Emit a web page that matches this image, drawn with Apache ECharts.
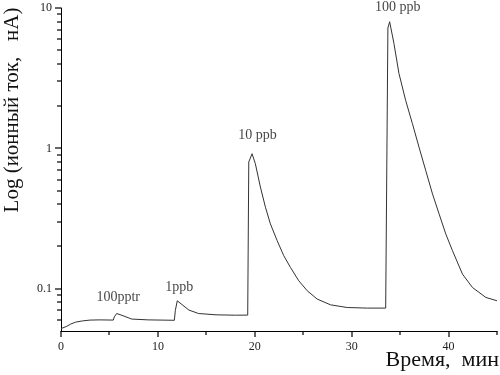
<!DOCTYPE html>
<html>
<head>
<meta charset="utf-8">
<script src="https://cdn.jsdelivr.net/npm/echarts@6/dist/echarts.min.js"></script>
<style>html,body{margin:0;padding:0;background:#fff}#c{width:500px;height:375px}</style>
</head>
<body>
<div id="c"></div>
<script>
var timeMin = [0, 0.2, 0.6, 1.0, 1.5, 2.2, 3.0, 4.0, 5.4, 5.5, 5.75, 6.2, 7.3, 9.0, 11.7, 11.8, 12.0, 12.5, 13.2, 14.2, 16.0, 18.0, 19.27, 19.38, 19.72, 20.06, 20.58, 21.10, 21.61, 22.31, 22.99, 23.68, 24.54, 25.41, 26.44, 27.82, 29.54, 31.61, 33.51, 33.68, 33.74, 33.92, 34.36, 34.88, 35.57, 36.27, 36.95, 37.64, 38.34, 39.02, 39.71, 40.40, 41.44, 42.47, 43.85, 45.0];
var ionCurrent = [0.052, 0.0515, 0.054, 0.056, 0.0578, 0.059, 0.0598, 0.060, 0.0598, 0.063, 0.0666, 0.065, 0.0608, 0.0600, 0.0596, 0.070, 0.0821, 0.077, 0.0705, 0.0666, 0.0652, 0.0648, 0.0649, 0.80, 0.916, 0.778, 0.530, 0.381, 0.290, 0.220, 0.172, 0.142, 0.114, 0.0968, 0.0844, 0.0768, 0.0735, 0.0728, 0.0728, 0.0728, 7.2, 7.98, 5.60, 3.42, 2.20, 1.50, 1.02, 0.697, 0.474, 0.342, 0.246, 0.187, 0.127, 0.102, 0.0867, 0.0821];

var labelTexts = ['100pptr', '1ppb', '10 ppb', '100 ppb'];
var labelTime = [5.9, 12.2, 20.27, 34.75];
var labelValue = [0.0862, 0.1017, 1.239, 10.08];

var xLabelValues = [0, 10, 20, 30, 40];
var xTickValues = [0, 5, 10, 15, 20, 25, 30, 35, 40, 45];
var yLabelValues = [0.1, 1, 10];
var yTickValues = [0.06, 0.07, 0.08, 0.09, 0.1, 0.2, 0.3, 0.4, 0.5, 0.6, 0.7, 0.8, 0.9, 1, 2, 3, 4, 5, 6, 7, 8, 9, 10];

var xMin = 0, xMax = 45, yMin = 0.05, yMax = 10;

var yTitle = 'Log (ионный ток,   нА)';
var xTitle = 'Время,  мин';

var serif = 'Liberation Serif';
var chart = echarts.init(document.getElementById('c'), null, {renderer: 'canvas'});

var lineData = timeMin.map(function (t, i) { return [t, ionCurrent[i]]; });
var annData = labelTexts.map(function (s, i) { return {value: [labelTime[i], labelValue[i]], name: s}; });
var xTickData = xTickValues.map(function (v) { return [v, yMin]; });
var yTickData = yTickValues.map(function (v) { return [xMin, v]; });

function isMajor(v, list) {
  for (var i = 0; i < list.length; i++) { if (Math.abs(list[i] - v) < 1e-9) return true; }
  return false;
}

chart.setOption({
  animation: false,
  backgroundColor: '#ffffff',
  grid: {left: 61, right: 3, top: 8, bottom: 44, containLabel: false},
  xAxis: {
    type: 'value', min: xMin, max: xMax, interval: 5,
    axisLine: {lineStyle: {color: '#000', width: 1}},
    axisTick: {show: false},
    axisLabel: {margin: 10, color: '#222', fontFamily: serif, fontSize: 12,
      formatter: function (v) { return xLabelValues.indexOf(v) >= 0 ? String(v) : ''; }},
    splitLine: {show: false}
  },
  yAxis: {
    type: 'log', logBase: 10, min: yMin, max: yMax,
    axisLine: {show: true, lineStyle: {color: '#000', width: 1}},
    axisTick: {show: false},
    axisLabel: {margin: 9, color: '#222', fontFamily: serif, fontSize: 12,
      formatter: function (v) { var r = Math.round(v * 1000) / 1000; return yLabelValues.indexOf(r) >= 0 ? String(r) : ''; }},
    splitLine: {show: false}
  },
  series: [{
    type: 'line', data: lineData,
    showSymbol: false, symbol: 'none',
    lineStyle: {color: '#333', width: 1}
  }, {
    type: 'scatter', data: annData,
    symbolSize: 0, clip: false, silent: true,
    label: {show: true, position: 'inside', formatter: '{b}', color: '#111', fontFamily: serif, fontSize: 14}
  }, {
    type: 'custom', data: xTickData, clip: false, silent: true, z: 10,
    renderItem: function (params, api) {
      var v = api.value(0);
      var p = api.coord([v, api.value(1)]);
      var len = isMajor(v, xLabelValues) ? 6 : 4;
      var x = Math.round(p[0]);
      return {type: 'rect', shape: {x: x - 0.6, y: p[1], width: 1.2, height: len},
        style: {fill: '#000'}};
    }
  }, {
    type: 'custom', data: yTickData, clip: false, silent: true, z: 10,
    renderItem: function (params, api) {
      var v = api.value(1);
      var p = api.coord([api.value(0), v]);
      var len = isMajor(v, yLabelValues) ? 6 : 4;
      var y = Math.round(p[1]);
      return {type: 'rect', shape: {x: p[0] - len, y: y - 0.6, width: len, height: 1.2},
        style: {fill: '#000'}};
    }
  }],
  graphic: [{
    type: 'text', x: 12, y: 110, rotation: Math.PI / 2,
    style: {text: yTitle, fill: '#111', font: '21px "Liberation Serif"', align: 'center', verticalAlign: 'middle'}
  }, {
    type: 'text', right: 1, top: 349,
    style: {text: xTitle, fill: '#111', font: '22px "Liberation Serif"', align: 'right', verticalAlign: 'top'}
  }]
});
</script>
</body>
</html>
